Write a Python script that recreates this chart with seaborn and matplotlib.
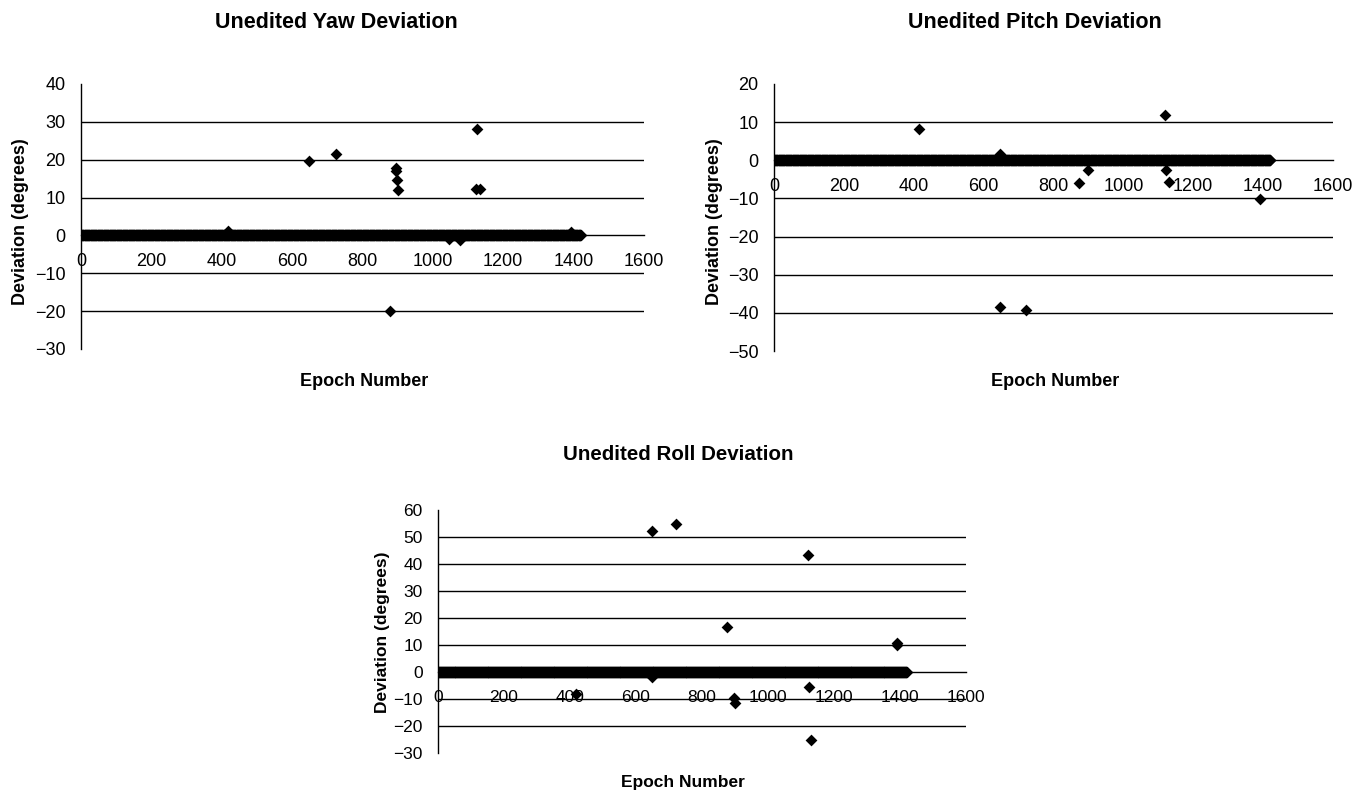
import numpy as np
import pandas as pd
import matplotlib
matplotlib.use('Agg')
import matplotlib.pyplot as plt
import seaborn as sns

# epochs 0..1420, deviation is ~0 everywhere except the outliers below
epochs = np.arange(0, 1421)
baseline = np.zeros(len(epochs))

yaw_epoch = [418, 648, 725, 878, 895, 896, 898, 900, 1045, 1078, 1122, 1126, 1134, 1393]
yaw_value = [1.3, 19.6, 21.6, -20.0, 17.9, 17.0, 14.7, 11.9, -1.0, -1.3, 12.3, 28.1, 12.3, 1.0]

pitch_epoch = [416, 647, 648, 720, 874, 898, 1120, 1123, 1130, 1391]
pitch_value = [8.1, 1.7, -38.5, -39.2, -6.0, -2.6, 12.0, -2.6, -5.7, -10.1]

roll_epoch = [419, 647, 648, 721, 875, 898, 900, 1121, 1125, 1131, 1391, 1392]
roll_value = [-8.3, 52.4, -1.8, 54.9, 16.8, -9.8, -11.6, 43.3, -5.6, -25.2, 10.1, 10.7]

x_ticks = [0, 200, 400, 600, 800, 1000, 1200, 1400, 1600]
yaw_ticks = [-30, -20, -10, 0, 10, 20, 30, 40]
pitch_ticks = [-50, -40, -30, -20, -10, 0, 10, 20]
roll_ticks = [-30, -20, -10, 0, 10, 20, 30, 40, 50, 60]

sns.set_style('white')
narrow = ['Liberation Sans Narrow', 'Liberation Sans', 'DejaVu Sans']
plt.rcParams['font.family'] = narrow


def make_frame(out_epoch, out_value):
    base = pd.DataFrame({'epoch': epochs, 'deviation': baseline})
    extra = pd.DataFrame({'epoch': out_epoch, 'deviation': out_value})
    return pd.concat([base, extra], ignore_index=True)


def excel_scatter(ax, df, yticks, tick_size):
    sns.scatterplot(data=df, x='epoch', y='deviation', ax=ax, marker='D', color='black',
                    s=36, linewidth=0, legend=False, zorder=3)
    ax.set_xlim(0, 1600)
    ax.set_ylim(yticks[0], yticks[-1])
    ax.set_xticks(x_ticks)
    ax.set_yticks(yticks)
    ax.spines['top'].set_visible(False)
    ax.spines['right'].set_visible(False)
    ax.spines['bottom'].set_position(('data', 0))
    for sp in ['left', 'bottom']:
        ax.spines[sp].set_linewidth(1.0)
        ax.spines[sp].set_color('black')
    ax.tick_params(axis='x', direction='out', length=4, width=1.0, pad=9, labelsize=tick_size, colors='black')
    ax.tick_params(axis='y', direction='out', length=4, width=1.0, pad=7, labelsize=tick_size, colors='black')
    # excel style gridlines, none at the top/bottom edge
    for y in yticks[1:-1]:
        if y != 0:
            ax.axhline(y, color='black', lw=1.0, zorder=1)
    ax.set_xlabel('')
    ax.set_ylabel('')
    ax.patch.set_alpha(0)


W, H = 1366, 796
fig = plt.figure(figsize=(W / 100, H / 100), dpi=100)


def px_axes(x0, x1, y_top, y_bot):
    return fig.add_axes([x0 / W, 1 - y_bot / H, (x1 - x0) / W, (y_bot - y_top) / H])


ax_yaw = px_axes(81, 644, 84, 349)
ax_pitch = px_axes(774, 1333, 84, 351)
ax_roll = px_axes(438, 966, 510, 753)

excel_scatter(ax_yaw, make_frame(yaw_epoch, yaw_value), yaw_ticks, 13)
excel_scatter(ax_pitch, make_frame(pitch_epoch, pitch_value), pitch_ticks, 13)
excel_scatter(ax_roll, make_frame(roll_epoch, roll_value), roll_ticks, 12.5)

title_font = dict(family=['Liberation Sans', 'DejaVu Sans'], weight='bold', color='black')
label_font = dict(family=narrow, weight='bold', color='black')

fig.text(336 / W, 1 - 23 / H, 'Unedited Yaw Deviation', ha='center', va='center', fontsize=15.5, **title_font)
fig.text(1035 / W, 1 - 23 / H, 'Unedited Pitch Deviation', ha='center', va='center', fontsize=15.5, **title_font)
fig.text(678 / W, 1 - 455 / H, 'Unedited Roll Deviation', ha='center', va='center', fontsize=14.8, **title_font)

fig.text(364 / W, 1 - 382 / H, 'Epoch Number', ha='center', va='center', fontsize=13, **label_font)
fig.text(1055 / W, 1 - 382 / H, 'Epoch Number', ha='center', va='center', fontsize=13, **label_font)
fig.text(683 / W, 1 - 782 / H, 'Epoch Number', ha='center', va='center', fontsize=12.5, **label_font)

fig.text(21 / W, 1 - 222 / H, 'Deviation (degrees)', ha='center', va='center', rotation=90, fontsize=13, **label_font)
fig.text(714 / W, 1 - 222 / H, 'Deviation (degrees)', ha='center', va='center', rotation=90, fontsize=13, **label_font)
fig.text(383 / W, 1 - 632 / H, 'Deviation (degrees)', ha='center', va='center', rotation=90, fontsize=12.5, **label_font)

fig.savefig('out.png', dpi=100, facecolor='white')
